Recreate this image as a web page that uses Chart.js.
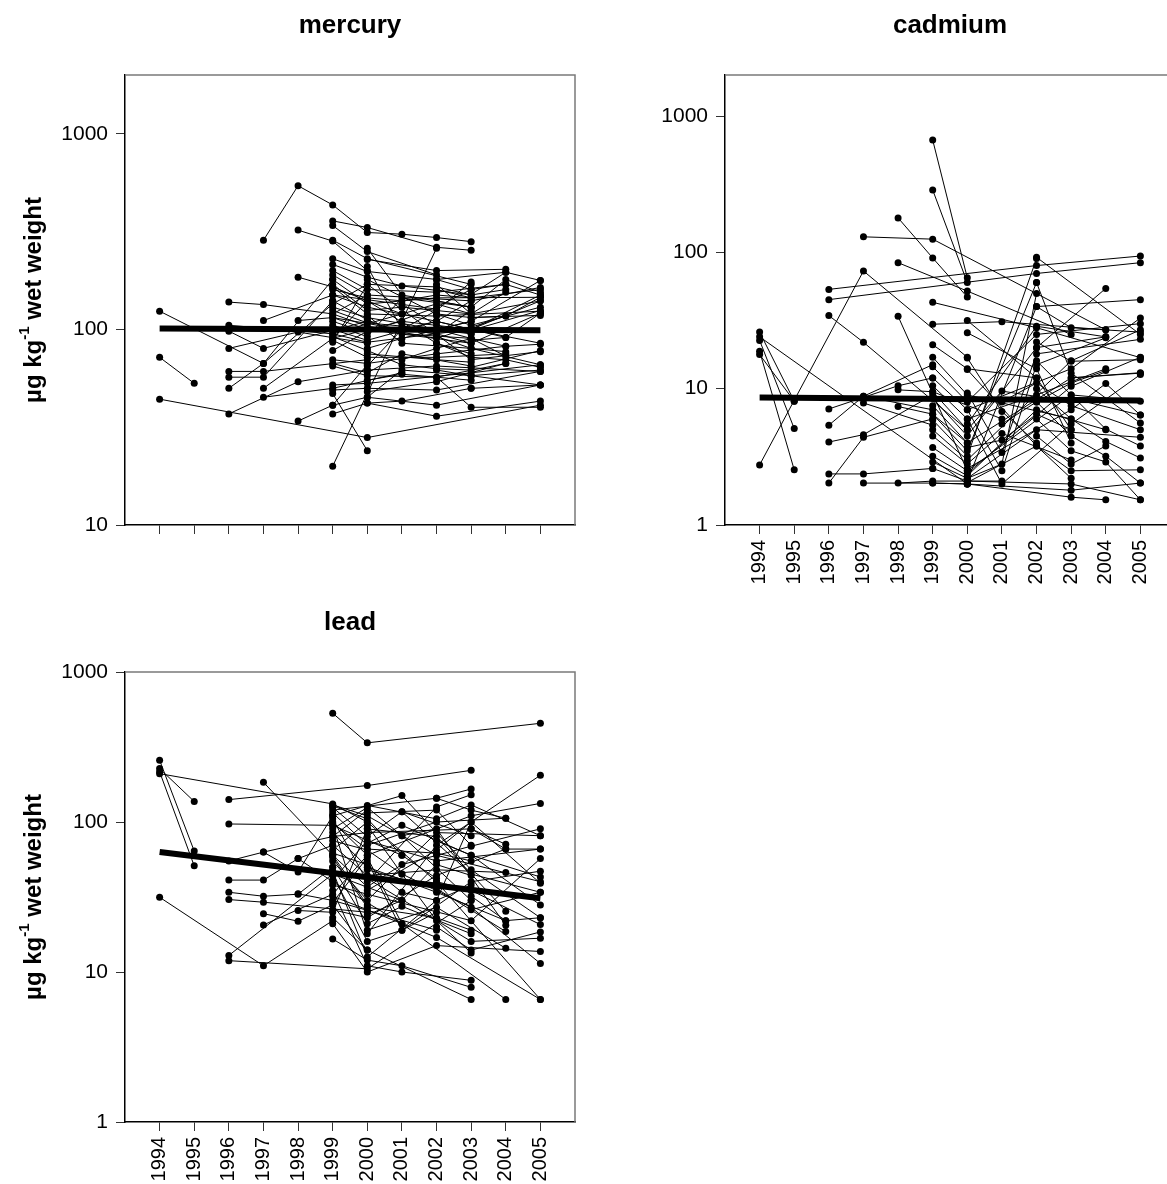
<!DOCTYPE html>
<html>
<head>
<meta charset="utf-8">
<script src="https://cdn.jsdelivr.net/npm/chart.js@4.4.1/dist/chart.umd.min.js"></script>
<style>
  html, body { margin: 0; padding: 0; background: #fff; overflow: hidden; width: 1167px; height: 1184px; }
  canvas { position: absolute; }
</style>
</head>
<body>
<canvas id="mercuryChart" width="600" height="570" style="left:0px;top:0px"></canvas>
<canvas id="cadmiumChart" width="600" height="620" style="left:600px;top:0px"></canvas>
<canvas id="leadChart" width="600" height="587" style="left:0px;top:597px"></canvas>
<script>
// 年（x軸）
const years = [1994, 1995, 1996, 1997, 1998, 1999, 2000, 2001, 2002, 2003, 2004, 2005];
const mercuryTicks = [10, 100, 1000];
const cadmiumTicks = [1, 10, 100, 1000];
const leadTicks = [1, 10, 100, 1000];

// 回帰線 [1994, 2005]
const mercuryTrend = [101, 99];
const cadmiumTrend = [8.6, 8.2];
const leadTrend = [63, 31];

// 個体ごとの折れ線 [年, 値, 年, 値, ...]
const mercuryLines = [
  [1994, 124, 1997, 67, 1999, 135],
  [1994, 72, 1995, 53],
  [1994, 44, 2000, 28, 2005, 41],
  [1996, 138, 1997, 134, 1999, 120, 2000, 150],
  [1996, 105, 1999, 95, 2001, 120],
  [1996, 98, 1997, 80, 2000, 110],
  [1996, 80, 1998, 97, 2000, 85],
  [1996, 61, 1997, 61, 2000, 70],
  [1996, 57, 1997, 57, 1999, 140],
  [1996, 50, 1997, 67, 1999, 180],
  [1996, 37, 1998, 54, 2000, 62],
  [1997, 286, 1998, 543, 1999, 433, 2000, 313, 2001, 307, 2002, 295, 2003, 281],
  [1997, 111, 1999, 150, 2002, 127],
  [1997, 50, 1999, 90, 2000, 100],
  [1997, 45, 1999, 50, 2001, 60],
  [1998, 322, 1999, 283, 2000, 200],
  [1998, 185, 1999, 165, 2000, 140],
  [1998, 111, 1999, 115, 2001, 100],
  [1998, 34, 1999, 41, 2000, 66],
  [1999, 359, 2000, 332, 2002, 263, 2003, 254],
  [1999, 340, 2000, 250, 2002, 190],
  [1999, 286, 2000, 230, 2003, 170],
  [1999, 230, 2000, 198, 2002, 180, 2004, 196],
  [1999, 215, 2000, 185, 2001, 167, 2003, 150],
  [1999, 200, 2000, 160, 2002, 155, 2004, 170],
  [1999, 190, 2000, 150, 2003, 140, 2005, 164],
  [1999, 180, 2000, 135, 2002, 145, 2005, 146],
  [1999, 170, 2000, 125, 2001, 130, 2003, 120],
  [1999, 165, 2000, 120, 2002, 117, 2005, 124],
  [1999, 160, 2000, 145, 2001, 140, 2002, 150, 2003, 145],
  [1999, 150, 2000, 130, 2002, 110, 2003, 100, 2005, 140],
  [1999, 140, 2000, 112, 2001, 95, 2003, 90],
  [1999, 135, 2000, 170, 2002, 165, 2003, 150, 2004, 160],
  [1999, 130, 2000, 115, 2002, 100, 2003, 110],
  [1999, 125, 2000, 108, 2001, 104, 2003, 95],
  [1999, 120, 2000, 104, 2002, 90, 2004, 117],
  [1999, 115, 2000, 100, 2003, 85, 2005, 121],
  [1999, 110, 2000, 96, 2002, 130, 2003, 160],
  [1999, 105, 2000, 92, 2001, 145, 2003, 130],
  [1999, 100, 2000, 88, 2002, 110, 2004, 91],
  [1999, 95, 2000, 86, 2003, 100, 2005, 85],
  [1999, 92, 2000, 78, 2001, 66, 2002, 63, 2003, 62],
  [1999, 90, 2000, 140, 2002, 85, 2003, 75],
  [1999, 88, 2000, 72, 2002, 72, 2004, 75],
  [1999, 86, 2000, 170, 2003, 70, 2005, 77],
  [1999, 78, 2000, 98, 2001, 100, 2002, 95, 2003, 85],
  [1999, 70, 2000, 67, 2002, 75, 2004, 82],
  [1999, 67, 2000, 60, 2001, 75, 2003, 65],
  [1999, 65, 2000, 58, 2002, 57, 2004, 67],
  [1999, 52, 2000, 53, 2003, 60, 2005, 66],
  [1999, 49, 2000, 50, 2002, 49, 2005, 61],
  [1999, 41, 2000, 45, 2002, 41, 2005, 52],
  [1999, 37, 2000, 42, 2001, 43, 2003, 50],
  [1999, 20, 2002, 260],
  [1999, 47, 2000, 24],
  [2000, 260, 2001, 150, 2003, 130],
  [2000, 228, 2002, 200, 2004, 203],
  [2000, 210, 2001, 100, 2002, 95, 2003, 125],
  [2000, 180, 2002, 120, 2003, 115, 2005, 118],
  [2000, 140, 2001, 120, 2002, 135, 2003, 120, 2004, 155],
  [2000, 118, 2001, 85, 2003, 80, 2004, 77],
  [2000, 100, 2001, 110, 2003, 100, 2005, 150],
  [2000, 80, 2001, 90, 2003, 110, 2005, 178],
  [2000, 75, 2002, 70, 2003, 68],
  [2000, 65, 2001, 100, 2002, 110, 2003, 140],
  [2000, 62, 2002, 65, 2005, 61],
  [2000, 55, 2001, 59, 2003, 55],
  [2000, 48, 2002, 54, 2004, 67],
  [2000, 45, 2001, 62, 2003, 58, 2005, 62],
  [2000, 42, 2002, 36, 2005, 43],
  [2001, 135, 2002, 105, 2003, 95],
  [2001, 100, 2002, 125, 2003, 175],
  [2001, 70, 2002, 80, 2003, 90, 2004, 73],
  [2002, 180, 2003, 160, 2004, 170, 2005, 150],
  [2002, 170, 2003, 120, 2005, 140],
  [2002, 160, 2003, 145, 2005, 160],
  [2002, 140, 2003, 130, 2004, 180, 2005, 155],
  [2002, 120, 2003, 105, 2005, 130],
  [2002, 100, 2003, 90, 2004, 82, 2005, 84],
  [2002, 92, 2003, 80, 2005, 66],
  [2002, 85, 2003, 72, 2004, 70, 2005, 64],
  [2002, 62, 2003, 58, 2005, 52],
  [2002, 57, 2003, 40, 2005, 40],
  [2003, 151, 2004, 196, 2005, 178],
  [2003, 115, 2004, 117, 2005, 146],
  [2003, 99, 2005, 125],
  [2003, 88, 2004, 91, 2005, 121],
  [2003, 64, 2005, 78],
  [2003, 50, 2005, 52],
];

const cadmiumLines = [
  [1994, 26, 1995, 8.1],
  [1994, 24, 2000, 2],
  [1994, 22.6, 1995, 5.1],
  [1994, 18.8, 1995, 2.54],
  [1994, 17.8, 1995, 8.1],
  [1994, 2.76, 1997, 73, 2000, 17],
  [1996, 53.5, 2002, 80, 2005, 94],
  [1996, 45, 2002, 70, 2005, 84],
  [1996, 34.4, 1997, 21.9, 2000, 5],
  [1996, 7.1, 1998, 10.5, 1999, 12],
  [1996, 5.4, 1997, 8.8, 1999, 15],
  [1996, 4.06, 1997, 4.6, 1999, 9],
  [1996, 2.37, 1997, 2.37, 1999, 2.6],
  [1996, 2.03, 1997, 4.4, 1999, 6],
  [1997, 130, 1999, 125, 2004, 27],
  [1997, 8.8, 1999, 7],
  [1997, 7.85, 1999, 5.4],
  [1997, 2.03, 1999, 2.03, 2000, 2],
  [1998, 179, 1999, 91, 2000, 47],
  [1998, 84, 2000, 52, 2003, 25],
  [1998, 34, 2000, 2.5],
  [1998, 9.8, 1999, 9.5, 2001, 6],
  [1998, 7.4, 1999, 6.5, 2000, 4],
  [1998, 2.03, 1999, 2.1, 2001, 2.1],
  [1999, 667, 2000, 65],
  [1999, 287, 2000, 60],
  [1999, 43, 2002, 28, 2005, 16.9],
  [1999, 29.7, 2001, 31, 2004, 27],
  [1999, 21, 2000, 14, 2002, 12],
  [1999, 17, 2000, 9, 2003, 6],
  [1999, 14.5, 2000, 8, 2002, 25, 2005, 30],
  [1999, 12, 2000, 7, 2003, 14, 2005, 33],
  [1999, 10.5, 2000, 6, 2002, 9, 2004, 14],
  [1999, 9.5, 2000, 5, 2001, 9.6, 2003, 8],
  [1999, 8.5, 2000, 4.5, 2002, 20, 2004, 24],
  [1999, 7.5, 2000, 4, 2003, 12, 2005, 13],
  [1999, 6.5, 2000, 3.5, 2002, 60],
  [1999, 5.9, 2000, 3.2, 2002, 90],
  [1999, 5, 2000, 3, 2003, 16, 2005, 27],
  [1999, 4.5, 2000, 2.8, 2001, 4.7, 2003, 3],
  [1999, 3.7, 2000, 2.5, 2003, 9, 2005, 8.1],
  [1999, 3.2, 2000, 2.3, 2002, 7, 2004, 5],
  [1999, 2.9, 2000, 2.2, 2002, 5, 2005, 4.4],
  [1999, 2.6, 2000, 2.1, 2003, 2, 2005, 1.53],
  [1999, 2.03, 2000, 2, 2003, 1.6, 2004, 1.53],
  [2000, 31.6, 2002, 12, 2003, 5],
  [2000, 25.7, 2002, 14, 2003, 4],
  [2000, 16.8, 2001, 6.8, 2002, 4],
  [2000, 13.8, 2002, 3.8, 2003, 2.2],
  [2000, 9.3, 2001, 3.4, 2002, 18, 2005, 23],
  [2000, 7, 2001, 2.5, 2002, 15, 2004, 23.6],
  [2000, 6, 2001, 2, 2003, 5.5, 2005, 12.7],
  [2000, 5.5, 2002, 28.7, 2004, 24],
  [2000, 3.7, 2001, 4.2, 2002, 6.5, 2003, 5],
  [2000, 2.2, 2001, 2.8, 2002, 50],
  [2000, 2.1, 2002, 40, 2005, 45],
  [2000, 2.4, 2003, 10.4, 2005, 17],
  [2000, 2.6, 2003, 7, 2004, 10.9, 2005, 6.4],
  [2000, 2.05, 2002, 3.8, 2003, 2.5, 2005, 2.54],
  [2000, 2, 2003, 1.8, 2005, 2.03],
  [2001, 8, 2002, 11, 2003, 7.5, 2005, 5],
  [2001, 5.5, 2002, 8, 2003, 11, 2004, 13.6],
  [2002, 92, 2005, 25],
  [2002, 60, 2003, 13, 2005, 5.6],
  [2002, 40, 2003, 28, 2005, 26],
  [2002, 22, 2003, 15.9, 2005, 16.3],
  [2002, 16, 2003, 9, 2004, 5.05, 2005, 3.8],
  [2002, 10, 2003, 6, 2004, 4.1, 2005, 3.1],
  [2002, 8, 2003, 4.5, 2004, 3.2, 2005, 2.03],
  [2002, 6, 2003, 3.5, 2004, 2.9, 2005, 1.53],
  [2002, 4.5, 2003, 2.8, 2004, 3.8],
  [2002, 20, 2004, 54.4],
  [2003, 12, 2005, 13.1],
  [2003, 8.5, 2005, 6.4],
];

const leadLines = [
  [1994, 258, 1995, 64],
  [1994, 227, 1995, 137],
  [1994, 216, 1995, 51],
  [1994, 210, 1999, 132, 2000, 100],
  [1994, 31.5, 1997, 11, 1999, 22],
  [1996, 141, 2000, 175, 2003, 221],
  [1996, 97, 1999, 95, 2001, 60],
  [1996, 55, 1997, 63, 1999, 80, 2000, 120],
  [1996, 41, 1997, 41, 1998, 57, 1999, 70],
  [1996, 34, 1997, 32, 1998, 33, 1999, 50],
  [1996, 30.4, 1997, 29.2, 2000, 25],
  [1996, 12.9, 1999, 45, 2001, 30],
  [1996, 11.9, 2000, 10.5, 2003, 30],
  [1997, 184, 1999, 60, 2000, 28],
  [1997, 63, 1998, 46.4, 1999, 110],
  [1997, 24.5, 1998, 21.8, 1999, 28, 2000, 14],
  [1997, 20.6, 1999, 33, 2000, 60],
  [1998, 57, 1999, 40, 2001, 21],
  [1998, 33.2, 1999, 30, 2002, 19],
  [1998, 25.7, 1999, 25, 2000, 90],
  [1999, 531, 2000, 337, 2005, 455],
  [1999, 130, 2000, 110, 2002, 60, 2005, 40],
  [1999, 128, 2000, 105, 2001, 60, 2002, 42],
  [1999, 125, 2000, 80, 2001, 117, 2003, 81],
  [1999, 120, 2002, 144, 2003, 166],
  [1999, 115, 2000, 70, 2002, 100, 2004, 106],
  [1999, 110, 2001, 150, 2003, 48, 2005, 23],
  [1999, 105, 2000, 40, 2002, 126, 2003, 152],
  [1999, 100, 2000, 60, 2003, 110, 2005, 133],
  [1999, 98, 2000, 66, 2002, 62, 2003, 55],
  [1999, 95, 2000, 18, 2002, 70, 2005, 205],
  [1999, 90, 2000, 125, 2001, 81, 2003, 30],
  [1999, 85, 2000, 50, 2002, 34, 2004, 22],
  [1999, 80, 2000, 85, 2003, 90, 2004, 71],
  [1999, 75, 2000, 65, 2001, 45, 2003, 27, 2005, 11.4],
  [1999, 70, 2000, 44, 2002, 48, 2004, 46],
  [1999, 65, 2000, 100, 2002, 40, 2005, 6.56],
  [1999, 62, 2000, 52, 2001, 34, 2002, 30, 2003, 38],
  [1999, 60, 2000, 37, 2001, 52, 2003, 69, 2005, 90],
  [1999, 58, 2000, 27, 2002, 23, 2003, 19],
  [1999, 55, 2000, 30, 2002, 85, 2005, 81],
  [1999, 50, 2000, 21, 2001, 27.4, 2003, 18],
  [1999, 47, 2000, 12.6, 2002, 30, 2003, 100],
  [1999, 44, 2000, 16, 2001, 19, 2002, 25],
  [1999, 41, 2000, 75, 2002, 55, 2005, 66],
  [1999, 38, 2000, 33, 2003, 22, 2005, 57],
  [1999, 35, 2000, 11, 2001, 10, 2003, 8.8],
  [1999, 32, 2000, 26, 2002, 17, 2005, 6.56],
  [1999, 29, 2000, 58, 2001, 21, 2004, 6.56],
  [1999, 26, 2000, 23, 2002, 44, 2004, 66],
  [1999, 23, 2000, 14, 2003, 6.56],
  [1999, 21, 2000, 10, 2002, 15, 2005, 13.7],
  [1999, 16.6, 2000, 12, 2001, 11, 2003, 7.9],
  [2000, 129, 2002, 105, 2003, 130, 2005, 81],
  [2000, 115, 2002, 120, 2003, 70],
  [2000, 95, 2001, 45, 2002, 22, 2003, 13.4],
  [2000, 90, 2002, 80, 2004, 25.4],
  [2000, 72, 2001, 95, 2003, 60, 2005, 28],
  [2000, 55, 2001, 19, 2003, 40, 2005, 47],
  [2000, 48, 2002, 36, 2004, 18.6],
  [2000, 42, 2003, 16, 2005, 16.8],
  [2000, 35, 2002, 65, 2003, 100, 2005, 39],
  [2000, 24, 2001, 30, 2002, 52, 2003, 44],
  [2000, 19, 2002, 27, 2004, 14.4],
  [2001, 117, 2003, 45, 2005, 34],
  [2001, 81, 2002, 90, 2004, 20.5],
  [2002, 144, 2003, 120, 2004, 106],
  [2002, 75, 2003, 60, 2005, 43],
  [2002, 40, 2003, 35, 2005, 20.7],
  [2002, 20, 2003, 14, 2005, 18.5],
  [2003, 90, 2004, 66, 2005, 66],
  [2003, 32, 2004, 22, 2005, 23],
  [2003, 26, 2005, 34],
];

const FONT = '"Liberation Sans", Arial, Helvetica, sans-serif';

// 枠・タイトル・縦軸ラベルを描くプラグイン
const panelDecor = {
  id: "panelDecor",
  afterDraw(chart, args, opts) {
    const { ctx, chartArea } = chart;
    ctx.save();
    // 上・右の枠線（灰色）
    ctx.strokeStyle = "#7a7a7a";
    ctx.lineWidth = 1.5;
    ctx.beginPath();
    ctx.moveTo(chartArea.left, chartArea.top);
    ctx.lineTo(chartArea.right, chartArea.top);
    ctx.lineTo(chartArea.right, chartArea.bottom);
    ctx.stroke();

    // タイトル
    ctx.fillStyle = "#000";
    ctx.font = "bold 26px " + FONT;
    ctx.textAlign = "center";
    ctx.textBaseline = "alphabetic";
    ctx.fillText(opts.title, (chartArea.left + chartArea.right) / 2, chartArea.top - 42);

    // 縦軸ラベル（上付き文字つき）
    if (opts.yLabel) {
      const parts = [
        ["µg kg", "bold 24px " + FONT, 0],
        ["-1", "bold 15px " + FONT, -9],
        [" wet weight", "bold 24px " + FONT, 0],
      ];
      let total = 0;
      parts.forEach((p) => {
        ctx.font = p[1];
        total += ctx.measureText(p[0]).width;
      });
      ctx.translate(opts.yLabelX, (chartArea.top + chartArea.bottom) / 2);
      ctx.rotate(-Math.PI / 2);
      ctx.textAlign = "left";
      ctx.textBaseline = "middle";
      let x = -total / 2;
      parts.forEach((p) => {
        ctx.font = p[1];
        ctx.fillText(p[0], x, p[2]);
        x += ctx.measureText(p[0]).width;
      });
    }
    ctx.restore();
  },
};

function toPoints(flat) {
  const pts = [];
  for (let i = 0; i < flat.length; i += 2) {
    pts.push({ x: flat[i], y: flat[i + 1] });
  }
  return pts;
}

function makeChart(canvasId, lines, trend, yTicks, yMax, yMin, opts) {
  const datasets = [];

  // 回帰線
  datasets.push({
    data: [
      { x: years[0], y: trend[0] },
      { x: years[years.length - 1], y: trend[1] },
    ],
    showLine: true,
    borderColor: "#000",
    borderWidth: 6,
    pointRadius: 0,
    borderCapStyle: "butt",
  });

  lines.forEach((line) => {
    datasets.push({
      data: toPoints(line),
      showLine: true,
      borderColor: "#000",
      borderWidth: 1,
      pointRadius: 3.5,
      pointBorderWidth: 0,
      pointBackgroundColor: "#000",
    });
  });

  const ctx = document.getElementById(canvasId).getContext("2d");
  return new Chart(ctx, {
    type: "scatter",
    data: { datasets: datasets },
    options: {
      responsive: false,
      animation: false,
      events: [],
      layout: { padding: { top: 75, right: opts.padRight, left: 0, bottom: 0 } },
      plugins: {
        legend: { display: false },
        tooltip: { enabled: false },
        panelDecor: { title: opts.title, yLabel: opts.yLabel, yLabelX: 34 },
      },
      scales: {
        x: {
          type: "linear",
          min: 1993,
          max: 2006,
          afterBuildTicks: (scale) => {
            scale.ticks = years.map((v) => ({ value: v }));
          },
          afterFit: (scale) => {
            scale.height = opts.xHeight;
          },
          border: { display: true, color: "#000", width: 1.5 },
          grid: { display: true, drawOnChartArea: false, drawTicks: true, tickLength: 9, color: "#333", lineWidth: 1 },
          ticks: {
            display: opts.showYears,
            minRotation: 90,
            maxRotation: 90,
            padding: 6,
            color: "#000",
            font: { family: FONT, size: 20 },
            callback: (v) => String(v),
          },
        },
        y: {
          type: "logarithmic",
          min: yMin,
          max: yMax,
          afterBuildTicks: (scale) => {
            scale.ticks = yTicks.map((v) => ({ value: v }));
          },
          afterFit: (scale) => {
            scale.width = 125;
          },
          border: { display: true, color: "#000", width: 1.5 },
          grid: { display: true, drawOnChartArea: false, drawTicks: true, tickLength: 9, color: "#333", lineWidth: 1 },
          ticks: {
            padding: 8,
            color: "#000",
            font: { family: FONT, size: 21 },
            callback: (v) => String(v),
          },
        },
      },
    },
    plugins: [panelDecor],
  });
}

makeChart("mercuryChart", mercuryLines, mercuryTrend, mercuryTicks, 2000, 10, {
  title: "mercury",
  yLabel: true,
  showYears: false,
  xHeight: 45,
  padRight: 25,
});

makeChart("cadmiumChart", cadmiumLines, cadmiumTrend, cadmiumTicks, 2000, 1, {
  title: "cadmium",
  yLabel: false,
  showYears: true,
  xHeight: 95,
  padRight: 25,
});

makeChart("leadChart", leadLines, leadTrend, leadTicks, 1000, 1, {
  title: "lead",
  yLabel: true,
  showYears: true,
  xHeight: 62,
  padRight: 25,
});
</script>
</body>
</html>
